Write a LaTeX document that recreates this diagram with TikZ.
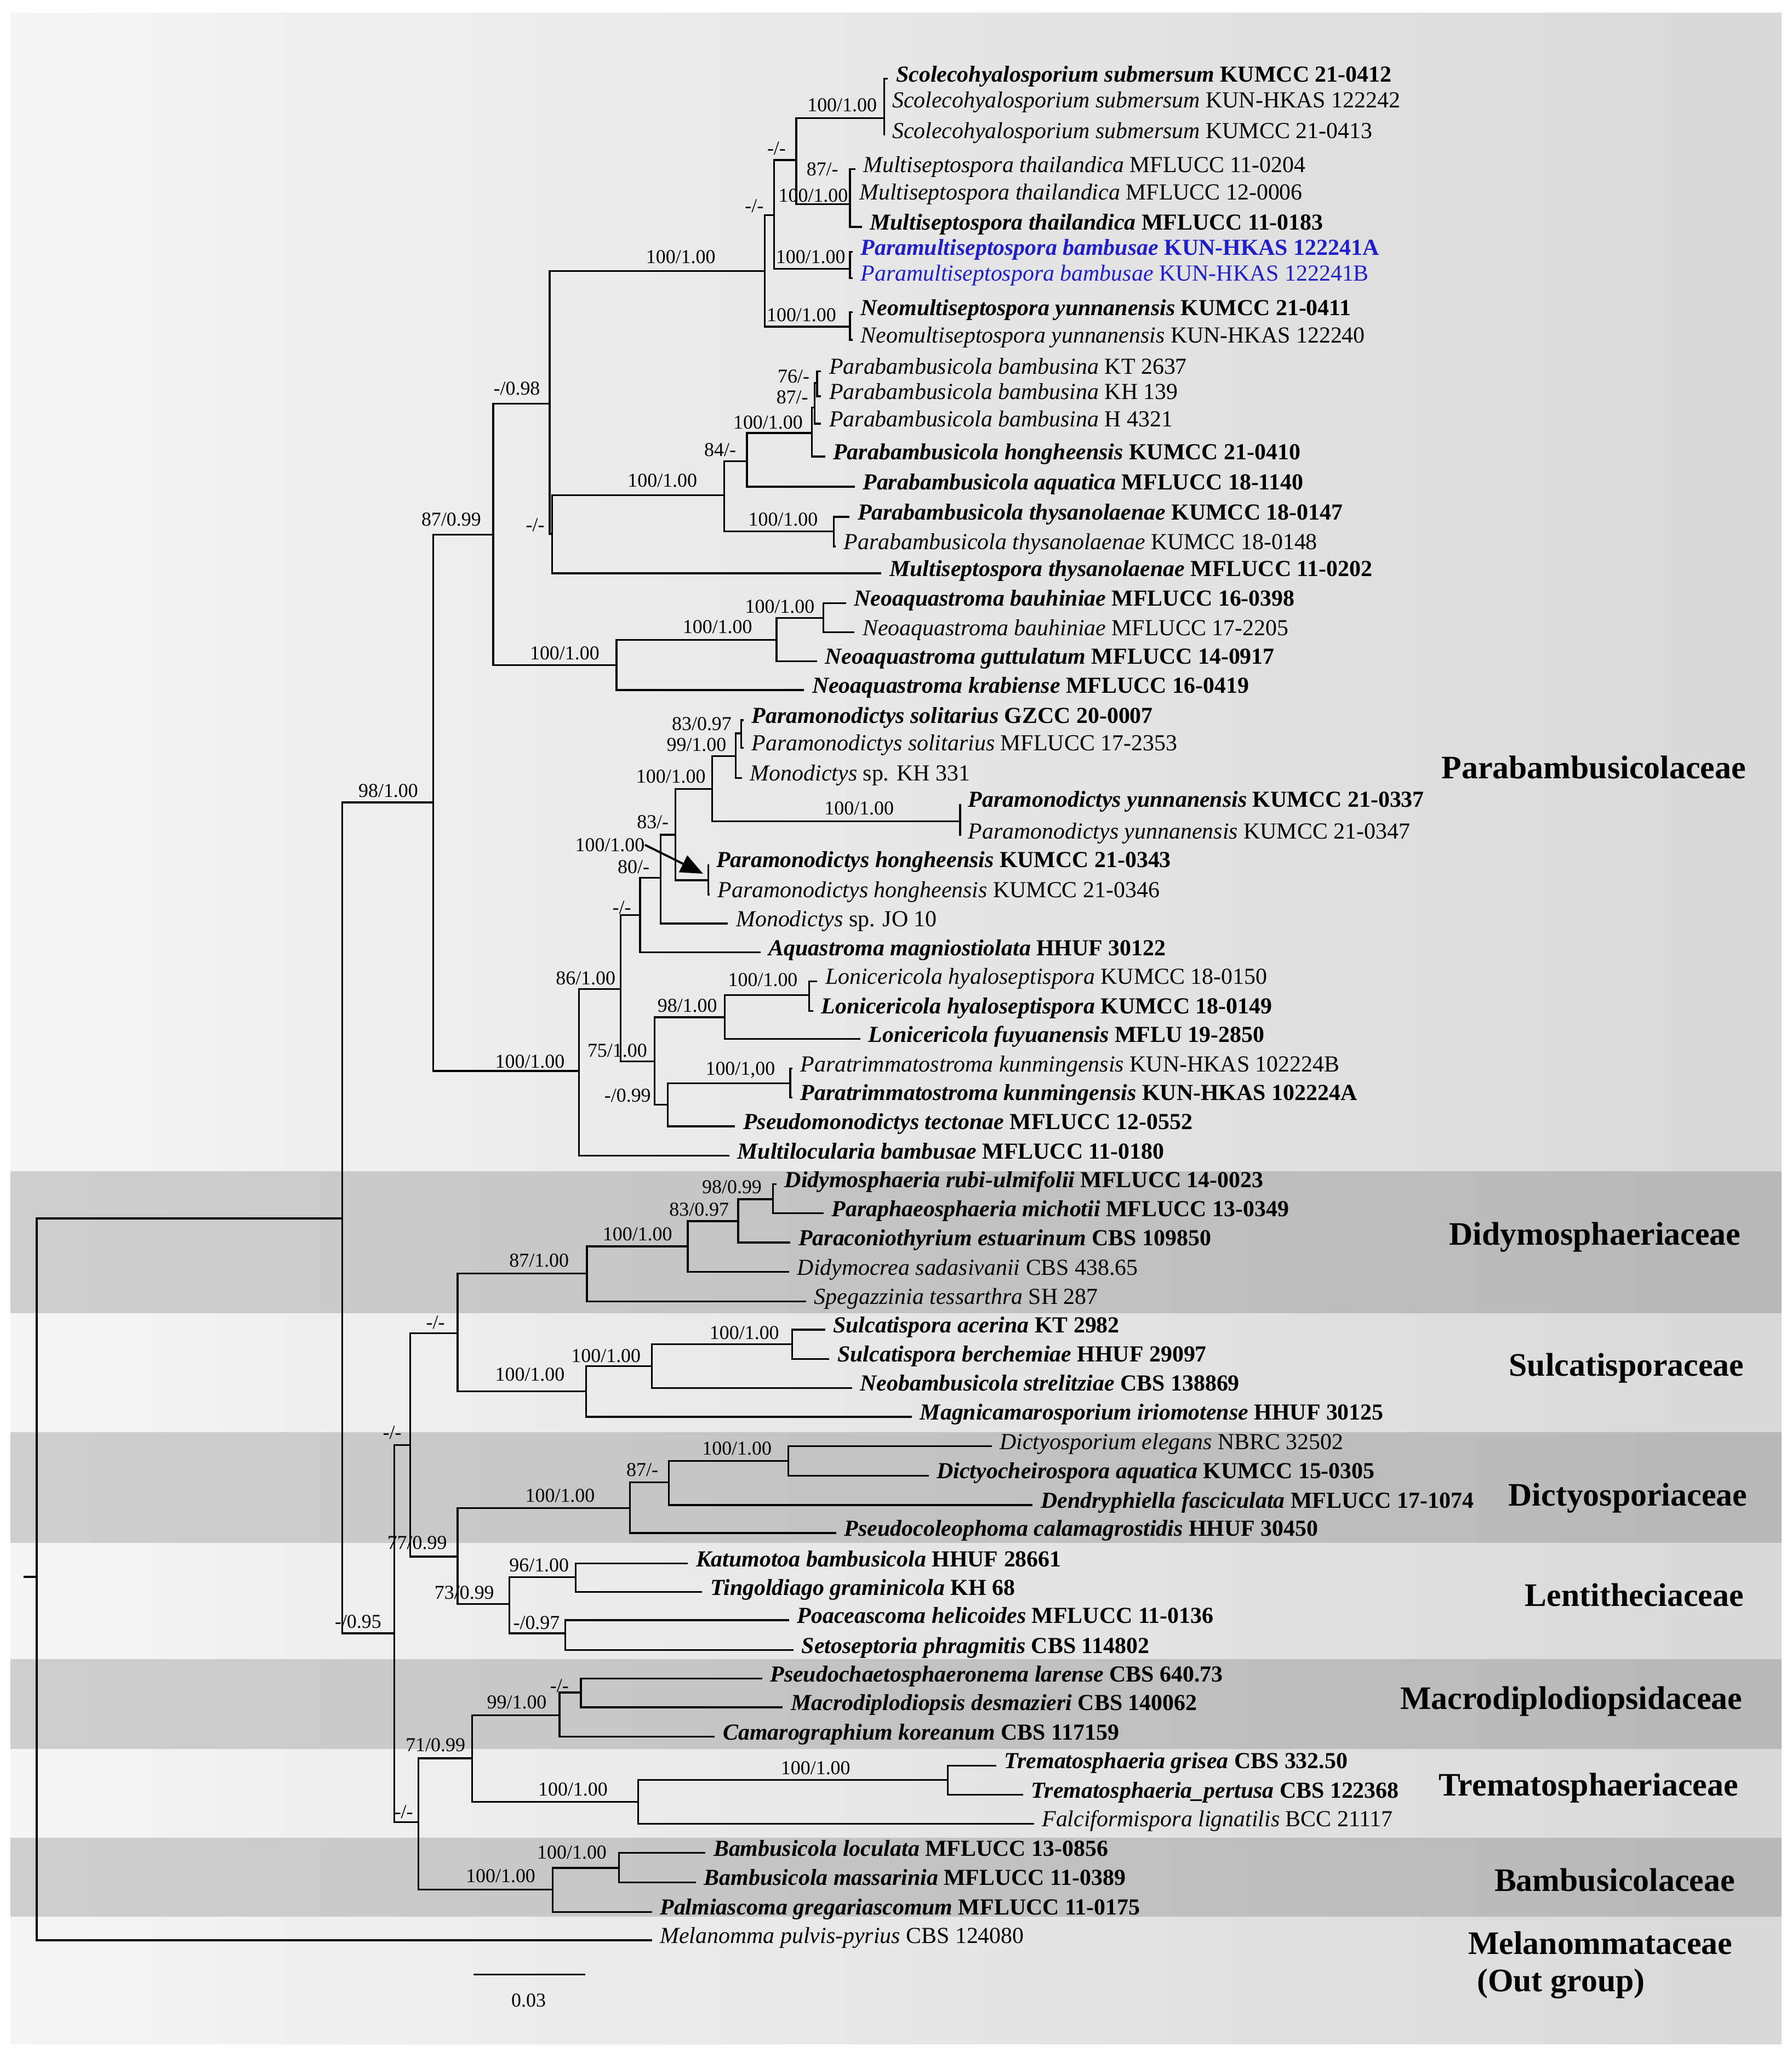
\documentclass[tikz,border=0pt]{standalone}
\usepackage{fontspec}
\setmainfont{Liberation Serif}
\usetikzlibrary{arrows.meta}
\definecolor{novel}{RGB}{30,30,205}
\tikzset{
    branch/.style={line width=1.4pt},
    taxon/.style={anchor=mid west, inner xsep=6pt, inner ysep=0pt, font=\fontsize{17.5}{18}\selectfont},
    taxonb/.style={taxon, font=\fontsize{17.5}{18}\selectfont\bfseries},
    supp/.style={inner sep=0pt, font=\fontsize{15}{15}\selectfont},
    family/.style={inner sep=0pt, align=center, font=\fontsize{25}{30}\selectfont\bfseries},
    lightband/.style={left color=black!4, right color=black!15},
    darkband/.style={left color=black!19, right color=black!28}
}

\begin{document}
\begin{tikzpicture}[x=1pt, y=-1pt]
    \useasboundingbox (0,0) rectangle (1366,1568);

    % Family bands
    \foreach \a/\b in {10/893, 1001/1092, 1176/1265, 1333/1401, 1461/1558}
        \shade[lightband] (8,\a) rectangle (1358,\b);
    \foreach \a/\b in {893/1001, 1092/1176, 1265/1333, 1401/1461}
        \shade[darkband] (8,\a) rectangle (1358,\b);

    % Internal nodes of the tree
    \foreach \n/\x/\y in {rootstub/18/1202, root/28/1202, A/261/928.7, PB/330.4/611.7,
        O/376/407.5, C/419/307.6, X1/583/206.5, X2/590/164, X3/607/122, Sco/674/90,
        Mth/648/155.5, Pms/648/205, Neo/648/249, D/421/407, E/552/377.6, F/569.5/351.5,
        G/619/330, H/621/310.5, I/623/292, J/635.6/405, K/470/507, L/592/487.7, M/627.6/471,
        Q0/441.5/816.4, Q/473.2/754, R/488/697.5, S/503.6/669, T/515/636.3, U/543/601.4,
        V/561/576.3, W/565/559, Hon/540/671, Yun/732/626, Xn/499/809, Y/552.4/775.4,
        AA/617/758.6, Z/509/842, BB/602.5/825.8, B2/300.5/1245, C2/312.8/1101.5, C3/319/1389,
        D2/348.8/1016.4, D3/348.8/1186.5, Dm/447.5/970.8, Dm2/524.4/950, Dm3/562.8/930.8,
        Dm4/589.2/914.2, Su/446.7/1060.6, Su2/497/1041.3, Su3/604/1024.6, Di/480.2/1149.5,
        Di2/510/1130, Di3/601/1113.5, Le/388.4/1222.6, Le2/438.8/1202.3, Le3/431/1245,
        Ma/360/1340.3, Ma2/426.5/1307.6, Ma3/442.8/1290.2, Tr/486.5/1373.6, Tr2/722.5/1356.8,
        Ba/421.3/1440.3, Ba2/472/1423.8, arrtip/536/666, sb1/361/1505, sb2/446/1505}
        \coordinate (\n) at (\x,\y);

    % Taxa (normal)
    \foreach \n/\x/\y/\sp/\st in {
        sc2/674/80/Scolecohyalosporium submersum/KUN-HKAS 122242,
        sc3/674/103/Scolecohyalosporium submersum/KUMCC 21-0413,
        mt1/652/129/Multiseptospora thailandica/MFLUCC 11-0204,
        mt2/649/150/Multiseptospora thailandica/MFLUCC 12-0006,
        ne2/650/259/Neomultiseptospora yunnanensis/KUN-HKAS 122240,
        b1/626/283/Parabambusicola bambusina/KT 2637,
        b2/626/302/Parabambusicola bambusina/KH 139,
        b3/626/323/Parabambusicola bambusina/H 4321,
        th2/637/416.6/Parabambusicola thysanolaenae/KUMCC 18-0148,
        bh2/651.5/482/Neoaquastroma bauhiniae/MFLUCC 17-2205,
        so2/567/570/Paramonodictys solitarius/MFLUCC 17-2353,
        mkh/565.7/593/Monodictys/sp. KH 331,
        yu2/732/637/Paramonodictys yunnanensis/KUMCC 21-0347,
        ho2/541/681.8/Paramonodictys hongheensis/KUMCC 21-0346,
        mjo/555/704/Monodictys/sp. JO 10,
        lh1/623/748/Lonicericola hyaloseptispora/KUMCC 18-0150,
        pt1/604/814.5/Paratrimmatostroma kunmingensis/KUN-HKAS 102224B,
        dsa/601.6/969.6/Didymocrea sadasivanii/CBS 438.65,
        ste/614.6/992/Spegazzinia tessarthra/SH 287,
        del/756/1102.4/Dictyosporium elegans/NBRC 32502,
        fli/788.2/1390.2/Falciformispora lignatilis/BCC 21117,
        mpu/497/1479/Melanomma pulvis-pyrius/CBS 124080}{
        \coordinate (\n) at (\x,\y);
        \node[taxon] (\n-l) at (\n) {\textit{\sp} \st};
    }

    % Taxa (bold)
    \foreach \n/\x/\y/\sp/\st in {
        sc1/677/60/Scolecohyalosporium submersum/KUMCC 21-0412,
        mt3/657/173/Multiseptospora thailandica/MFLUCC 11-0183,
        ne1/650/238/Neomultiseptospora yunnanensis/KUMCC 21-0411,
        hg/629/348/Parabambusicola hongheensis/KUMCC 21-0410,
        aq/651.6/371/Parabambusicola aquatica/MFLUCC 18-1140,
        th1/647.7/394/Parabambusicola thysanolaenae/KUMCC 18-0147,
        mty/672/437/Multiseptospora thysanolaenae/MFLUCC 11-0202,
        bh1/645/459.7/Neoaquastroma bauhiniae/MFLUCC 16-0398,
        gu/622.8/504/Neoaquastroma guttulatum/MFLUCC 14-0917,
        kr/613/526/Neoaquastroma krabiense/MFLUCC 16-0419,
        so1/567/549/Paramonodictys solitarius/GZCC 20-0007,
        yu1/732/613/Paramonodictys yunnanensis/KUMCC 21-0337,
        ho1/540/659/Paramonodictys hongheensis/KUMCC 21-0343,
        am/579.8/726/Aquastroma magniostiolata/HHUF 30122,
        lh2/620/770.6/Lonicericola hyaloseptispora/KUMCC 18-0149,
        lf/656/792/Lonicericola fuyuanensis/MFLU 19-2850,
        pt2/604/836.5/Paratrimmatostroma kunmingensis/KUN-HKAS 102224A,
        pte/560.4/858.6/Pseudomonodictys tectonae/MFLUCC 12-0552,
        mlb/556/881/Multilocularia bambusae/MFLUCC 11-0180,
        dr/592/902.7/Didymosphaeria rubi-ulmifolii/MFLUCC 14-0023,
        pmi/628/924.9/Paraphaeosphaeria michotii/MFLUCC 13-0349,
        pce/602.6/947.2/Paraconiothyrium estuarinum/CBS 109850,
        sac/629/1013.5/Sulcatispora acerina/KT 2982,
        sbe/632.3/1035.8/Sulcatispora berchemiae/HHUF 29097,
        nst/649.6/1058/Neobambusicola strelitziae/CBS 138869,
        mir/695.2/1080/Magnicamarosporium iriomotense/HHUF 30125,
        daq/708/1124.8/Dictyocheirospora aquatica/KUMCC 15-0305,
        dfa/787.3/1147.2/Dendryphiella fasciculata/MFLUCC 17-1074,
        pca/637.6/1168.5/Pseudocoleophoma calamagrostidis/HHUF 30450,
        kba/524.4/1191.8/Katumotoa bambusicola/HHUF 28661,
        tgr/535.4/1213.5/Tingoldiago graminicola/KH 68,
        phe/601.6/1235/Poaceascoma helicoides/MFLUCC 11-0136,
        sph/605/1257.8/Setoseptoria phragmitis/CBS 114802,
        pla/581/1279.5/Pseudochaetosphaeronema larense/CBS 640.73,
        mde/596.8/1301.5/Macrodiplodiopsis desmazieri/CBS 140062,
        cko/545/1323.8/Camarographium koreanum/CBS 117159,
        tgs/759.4/1345.8/Trematosphaeria grisea/CBS 332.50,
        tpe/780/1368.2/Trematosphaeria\_pertusa/CBS 122368,
        blo/537.8/1412.4/Bambusicola loculata/MFLUCC 13-0856,
        bma/530.6/1434.8/Bambusicola massarinia/MFLUCC 11-0389,
        pgr/497/1457.4/Palmiascoma gregariascomum/MFLUCC 11-0175}{
        \coordinate (\n) at (\x,\y);
        \node[taxonb] (\n-l) at (\n) {\textit{\sp} \st};
    }

    % New species
    \coordinate (pm1) at (650,192);
    \coordinate (pm2) at (650,212);
    \node[taxonb, text=novel] (pm1-l) at (pm1) {\textit{Paramultiseptospora bambusae} KUN-HKAS 122241A};
    \node[taxon, text=novel] (pm2-l) at (pm2) {\textit{Paramultiseptospora bambusae} KUN-HKAS 122241B};

    % Branches
    \draw[branch] (rootstub) -- (root);
    \foreach \p/\c in {root/A, root/mpu, A/PB, A/B2, PB/O, PB/Q0, O/C, O/K, C/X1, C/D,
        X1/X2, X1/Neo, X2/X3, X2/Pms, X3/Sco, X3/Mth, Sco/sc1, Sco/sc2, Sco/sc3,
        Mth/mt1, Mth/mt2, Mth/mt3, Pms/pm1, Pms/pm2, Neo/ne1, Neo/ne2, D/E, D/mty,
        E/F, E/J, F/G, F/aq, G/H, G/hg, H/I, H/b3, I/b1, I/b2, J/th1, J/th2,
        K/L, K/kr, L/M, L/gu, M/bh1, M/bh2, Q0/Q, Q0/mlb, Q/R, Q/Xn, R/S, R/am,
        S/T, S/mjo, T/U, T/Hon, Hon/ho1, Hon/ho2, U/V, U/Yun, V/W, V/mkh, W/so1, W/so2,
        Yun/yu1, Yun/yu2, Xn/Y, Xn/Z, Y/AA, Y/lf, AA/lh1, AA/lh2, Z/BB, Z/pte, BB/pt1, BB/pt2,
        B2/C2, B2/C3, C2/D2, C2/D3, D2/Dm, D2/Su, Dm/Dm2, Dm/ste, Dm2/Dm3, Dm2/dsa,
        Dm3/Dm4, Dm3/pce, Dm4/dr, Dm4/pmi, Su/Su2, Su/mir, Su2/Su3, Su2/nst, Su3/sac, Su3/sbe,
        D3/Di, D3/Le, Di/Di2, Di/pca, Di2/Di3, Di2/dfa, Di3/del, Di3/daq,
        Le/Le2, Le/Le3, Le2/kba, Le2/tgr, Le3/phe, Le3/sph,
        C3/Ma, C3/Ba, Ma/Ma2, Ma/Tr, Ma2/Ma3, Ma2/cko, Ma3/pla, Ma3/mde,
        Tr/Tr2, Tr/fli, Tr2/tgs, Tr2/tpe, Ba/Ba2, Ba/pgr, Ba2/blo, Ba2/bma}
        \draw[branch] (\p) |- (\c);

    % Support values
    \foreach \n/\x/\y/\v in {s01/642/80/{100/1.00}, s02/592/113/{-/-}, s03/627/129/{87/-},
        s04/620/149/{100/1.00}, s05/575/157/{-/-}, s06/618/196/{100/1.00}, s07/519/196/{100/1.00},
        s08/611/240/{100/1.00}, s09/605/287/{76/-}, s10/604/303/{87/-}, s11/585.5/322/{100/1.00},
        s12/549/343/{84/-}, s13/505/366.5/{100/1.00}, s14/597/396/{100/1.00}, s15/408/400/{-/-},
        s16/394/296/{-/0.98}, s17/344/396/{87/0.99}, s18/594.5/462.5/{100/1.00},
        s19/547/478/{100/1.00}, s20/430.5/498/{100/1.00}, s21/535/552/{83/0.97},
        s22/531/567.5/{99/1.00}, s23/511.5/592/{100/1.00}, s24/655/616/{100/1.00},
        s25/497.7/626.7/{83/-}, s26/483/661/{80/-}, s27/474/692/{-/-}, s28/446.5/745.5/{86/1.00},
        s29/581.6/747/{100/1.00}, s30/524/766.5/{98/1.00}, s31/470.6/800.7/{75/1.00},
        s32/404/809/{100/1.00}, s33/564.4/815.5/{100/1,00}, s34/478.5/835/{-/0.99},
        s35/296/603/{98/1.00}, s36/558/904.8/{98/0.99}, s37/533/922/{83/0.97},
        s38/486/941/{100/1.00}, s39/411/961/{87/1.00}, s40/332/1008/{-/-},
        s41/567.5/1016/{100/1.00}, s42/462/1033.6/{100/1.00}, s43/404/1047.6/{100/1.00},
        s44/299/1092/{-/-}, s45/561.8/1104/{100/1.00}, s46/489.7/1120.5/{87/-},
        s47/427/1140/{100/1.00}, s48/318/1176/{77/0.99}, s49/411/1193/{96/1.00},
        s50/354/1214/{73/0.99}, s51/273/1236/{-/0.95}, s52/409/1237/{-/0.97},
        s53/426.5/1285/{-/-}, s54/394/1297.5/{99/1.00}, s55/332/1330/{71/0.99},
        s56/621.8/1347.8/{100/1.00}, s57/436.8/1364/{100/1.00}, s58/307.8/1381/{-/-},
        s59/436/1412/{100/1.00}, s60/381.7/1430/{100/1.00}}
        \node[supp] (\n) at (\x,\y) {\v};

    % Arrow to the new node
    \node[supp] (arrlab) at (465,644) {100/1.00};
    \draw[line width=1.6pt, -{Triangle[length=17pt, width=14pt]}] (arrlab.east) -- (arrtip);

    % Scale bar
    \draw[line width=1.2pt] (sb1) -- (sb2);
    \node[supp] (scale) at (403,1525) {0.03};

    % Family names
    \node[family] (fam1) at (1215,585) {Parabambusicolaceae};
    \node[family] (fam2) at (1216,943) {Didymosphaeriaceae};
    \node[family] (fam3) at (1240,1043) {Sulcatisporaceae};
    \node[family] (fam4) at (1241,1142) {Dictyosporiaceae};
    \node[family] (fam5) at (1246,1216) {Lentitheciaceae};
    \node[family] (fam6) at (1198,1297) {Macrodiplodiopsidaceae};
    \node[family] (fam7) at (1211,1363) {Trematosphaeriaceae};
    \node[family] (fam8) at (1231,1433) {Bambusicolaceae};
    \node[family] (fam9) at (1220,1481) {Melanommataceae};
    \node[family] (fam10) at (1190,1512) {(Out group)};
\end{tikzpicture}
\end{document}
